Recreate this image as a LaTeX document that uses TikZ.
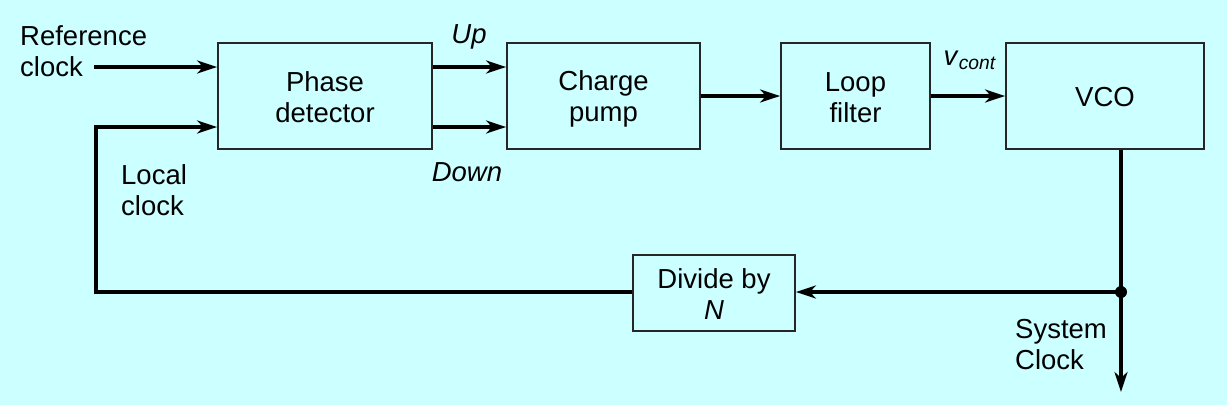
\documentclass[tikz,border=0pt]{standalone}
\usepackage{fontspec}
\setmainfont{Liberation Sans}
\usetikzlibrary{arrows.meta}
\definecolor{bg}{HTML}{CCFFFF}
\newcommand\lnst{\rule[-4pt]{0pt}{29pt}}
\begin{document}
\begin{tikzpicture}[x=1pt,y=-1pt,
  blk/.style={draw=black!85,line width=1.8pt,inner sep=0pt,align=center,font=\fontsize{27.5}{31}\selectfont},
  lbl/.style={inner sep=0pt,font=\fontsize{27.5}{31}\selectfont},
  wire/.style={line width=3.2pt},
  arr/.style={wire,-{Stealth[length=20pt,width=13pt,inset=6pt]}}]
\fill[bg] (0,0) rectangle (1227,405);
\useasboundingbox (0,0) rectangle (1227,405);
\node[blk,minimum width=214pt,minimum height=106pt] (pd) at (325,96) {\lnst Phase\\\lnst detector};
\node[blk,minimum width=193pt,minimum height=106pt] (cp) at (603.5,96) {\lnst Charge\\\lnst pump};
\node[blk,minimum width=149pt,minimum height=106pt] (lf) at (855.5,96) {\lnst Loop\\\lnst filter};
\node[blk,minimum width=198pt,minimum height=106pt] (vco) at (1105,96) {\lnst VCO};
\node[blk,minimum width=162pt,minimum height=76pt] (div) at (714,293) {\lnst Divide by\\\lnst\textit{N}};
\node[lbl,align=left,anchor=west] (ref) at (20,51) {Reference\\clock};
\node[lbl,align=left,anchor=west] (loc) at (121,190) {Local\\clock};
\node[lbl] (up) at (469,37) {\textit{Up}};
\node[lbl] (down) at (467,172) {\textit{Down}};
\node[lbl] (vc) at (970,60) {\textit{v}\textsubscript{\textit{cont}}};
\node[lbl,align=left,anchor=west] (sys) at (1015,345) {System\\Clock};
\coordinate (refs) at (94,67);
\coordinate (lc) at (96,292);
\coordinate (j) at (1121,292);
\coordinate (out) at (1121,392);
\draw[arr] (refs) -- (pd.west |- refs);
\draw[arr] (div.west |- lc) -- (lc) -- (96,127) -- (pd.west |- 0,127);
\draw[arr] (pd.east |- 0,67) -- (cp.west |- 0,67);
\draw[arr] (pd.east |- 0,127) -- (cp.west |- 0,127);
\draw[arr] (cp.east |- 0,96) -- (lf.west |- 0,96);
\draw[arr] (lf.east |- 0,96) -- (vco.west |- 0,96);
\draw[arr] (vco.south -| j) -- (out);
\draw[arr] (j) -- (div.east |- j);
\fill (j) circle (6pt);
\end{tikzpicture}
\end{document}
